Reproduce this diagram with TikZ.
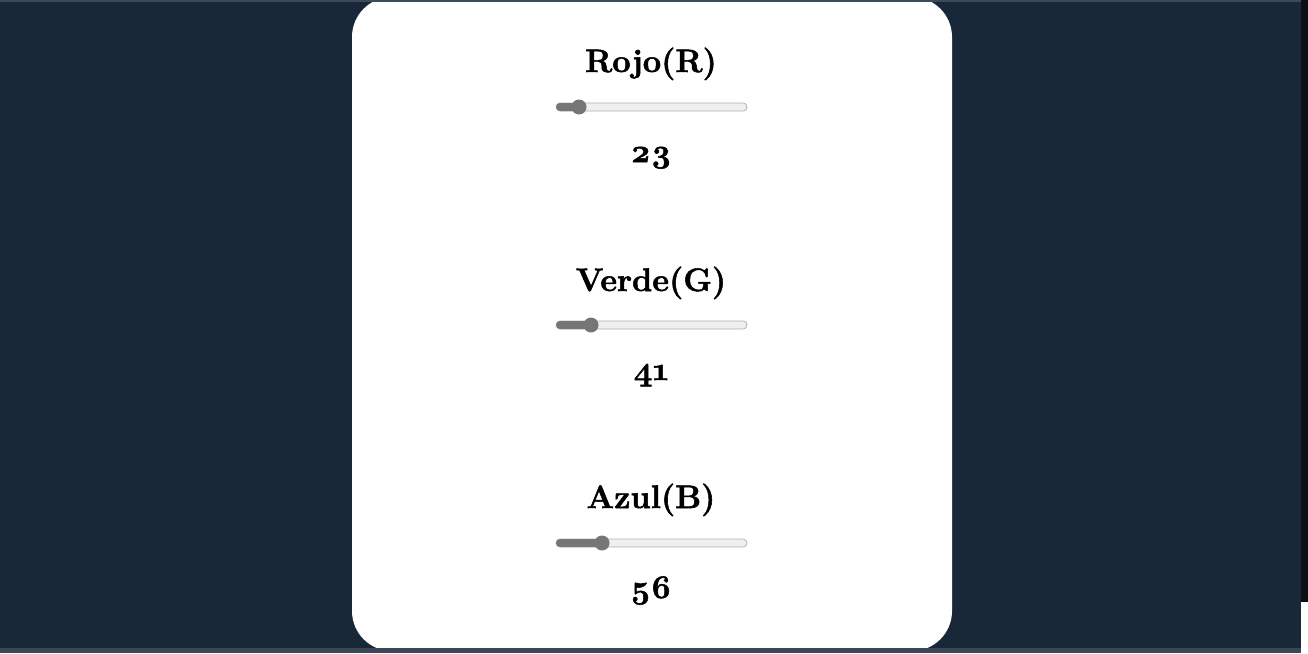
\documentclass[tikz,border=0pt]{standalone}
\usepackage{fontspec}
\setmainfont{Latin Modern Roman}[Numbers=OldStyle, BoldFeatures={FakeBold=1.6}]
\definecolor{bgnavy}{RGB}{24,40,56}
\definecolor{topstrip}{RGB}{62,74,92}
\definecolor{botstrip}{RGB}{60,70,86}
\definecolor{rightstrip}{RGB}{12,16,22}
\definecolor{trackfill}{RGB}{239,239,239}
\definecolor{trackline}{RGB}{178,178,178}
\definecolor{thumbgray}{RGB}{118,118,118}
\tikzset{
  label text/.style={anchor=base, inner sep=0pt, font=\fontsize{32.5}{38}\selectfont\bfseries},
  value text/.style={anchor=base, inner sep=0pt, font=\fontsize{33}{39}\selectfont\bfseries},
  track/.style={fill=trackfill, draw=trackline, line width=0.8pt, rounded corners=4pt},
  filled/.style={fill=thumbgray, rounded corners=4pt},
  thumb/.style={circle, fill=thumbgray, minimum size=15pt, inner sep=0pt},
}
\begin{document}
\begin{tikzpicture}[x=1pt,y=-1pt]
\useasboundingbox (0,0) rectangle (1308,653);
\fill[bgnavy] (0,0) rectangle (1308,653);
% card
\fill[white, rounded corners=40pt] (352,-3) rectangle (952,651);
% strips
\fill[topstrip] (0,0) rectangle (1301,2);
\fill[botstrip] (0,648) rectangle (1301,653);
\fill[rightstrip] (1301,0) rectangle (1308,602);
\fill[white] (1301,602) rectangle (1308,653);

% Rojo
\node[label text] (rl) at (651,72) {Rojo(R)};
\draw[track] (556,103) rectangle (747,111);
\fill[filled] (556,103) rectangle (580,111);
\node[thumb] (rt) at (579,107) {};
\node[value text] (rv) at (651,162) {23};

% Verde
\node[label text] (gl) at (651,291) {Verde(G)};
\draw[track] (556,321) rectangle (747,329);
\fill[filled] (556,321) rectangle (592,329);
\node[thumb] (gt) at (591,325) {};
\node[value text] (gv) at (651,380) {41};

% Azul
\node[label text] (bl) at (651,508) {Azul(B)};
\draw[track] (556,539) rectangle (747,547);
\fill[filled] (556,539) rectangle (603,547);
\node[thumb] (bt) at (602,543) {};
\node[value text] (bv) at (651,598) {56};
\end{tikzpicture}
\end{document}
